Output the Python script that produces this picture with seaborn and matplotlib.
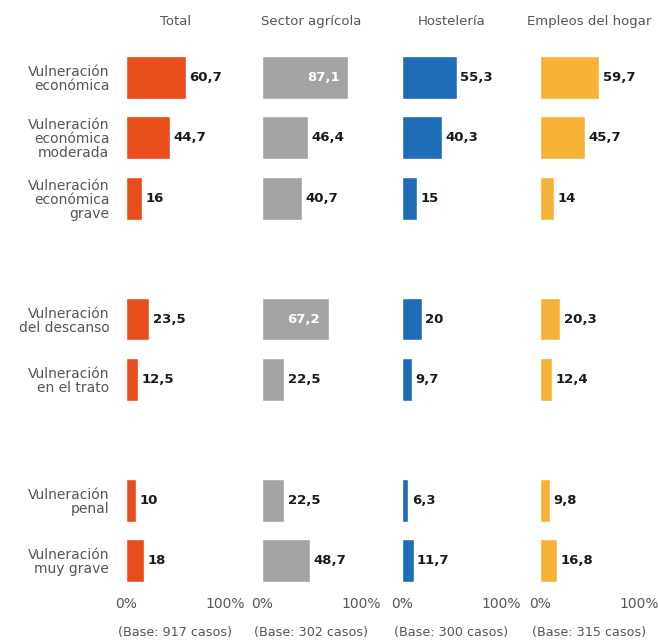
import matplotlib
matplotlib.use("Agg")
import matplotlib.pyplot as plt
import seaborn as sns
import pandas as pd

categories = [
    "Vulneración\neconómica",
    "Vulneración\neconómica\nmoderada",
    "Vulneración\neconómica\ngrave",
    " ",
    "Vulneración\ndel descanso",
    "Vulneración\nen el trato",
    "  ",
    "Vulneración\npenal",
    "Vulneración\nmuy grave",
]
gap_slots = [" ", "  "]
real_categories = [c for c in categories if c not in gap_slots]

sectors = ["Total", "Sector agrícola", "Hostelería", "Empleos del hogar"]
total_vals = [60.7, 44.7, 16, 23.5, 12.5, 10, 18]
agricola_vals = [87.1, 46.4, 40.7, 67.2, 22.5, 22.5, 48.7]
hosteleria_vals = [55.3, 40.3, 15, 20, 9.7, 6.3, 11.7]
hogar_vals = [59.7, 45.7, 14, 20.3, 12.4, 9.8, 16.8]
bases = ["(Base: 917 casos)", "(Base: 302 casos)", "(Base: 300 casos)", "(Base: 315 casos)"]
colors = ["#E84E1B", "#A3A3A3", "#1F6DB7", "#F6B236"]
tick_vals = [0, 100]
tick_labels = ["0%", "100%"]

series = [total_vals, agricola_vals, hosteleria_vals, hogar_vals]
rows = []
for s, vals in zip(sectors, series):
    for c, v in zip(real_categories, vals):
        rows.append({"sector": s, "categoria": c, "valor": v})
df = pd.DataFrame(rows)

sns.set_theme(style="white")
plt.rcParams["font.family"] = ["DejaVu Sans"]

W, H = 658, 643
fig = plt.figure(figsize=(W / 100, H / 100), dpi=100)

x0s = [126, 262, 402, 540]
pw = 99
top_px, bot_px = 47, 591
text_col = "#555555"

for i, (s, col) in enumerate(zip(sectors, colors)):
    ax = fig.add_axes([x0s[i] / W, (H - bot_px) / H, pw / W, (bot_px - top_px) / H])
    sub = df[df["sector"] == s]
    sns.barplot(data=sub, x="valor", y="categoria", order=categories, color=col,
                saturation=1, width=0.71, orient="h", ax=ax, errorbar=None)
    ax.set_xlim(0, 100)
    ax.set_ylim(len(categories) - 0.5, -0.5)
    for sp in ax.spines.values():
        sp.set_visible(False)
    ax.set_xticks(tick_vals)
    ax.set_xticklabels(tick_labels, fontsize=10, color=text_col)
    ax.tick_params(axis="both", length=0)
    ax.tick_params(axis="x", pad=4)
    ax.set_xlabel(bases[i], fontsize=9.2, color=text_col, labelpad=11)
    ax.set_ylabel("")
    if i == 0:
        ax.set_yticks(range(len(categories)))
        ax.set_yticklabels(categories, fontsize=10, color=text_col,
                           ha="right", multialignment="right", linespacing=1.0)
        ax.tick_params(axis="y", pad=12)
    else:
        ax.set_yticks([])
    ax.set_title(s, fontsize=9.5, color=text_col, pad=16)
    for cont in ax.containers:
        for bar, v in zip(cont, cont.datavalues):
            if pd.isna(v):
                continue
            lab = f"{v:g}".replace(".", ",")
            yc = bar.get_y() + bar.get_height() / 2
            if v > 65:
                ax.annotate(lab, (v, yc), xytext=(-6, 0), textcoords="offset points",
                            ha="right", va="center", fontsize=9.5, fontweight="bold",
                            color="white")
            else:
                ax.annotate(lab, (v, yc), xytext=(2.5, 0), textcoords="offset points",
                            ha="left", va="center", fontsize=9.5, fontweight="bold",
                            color="#1a1a1a")

fig.savefig("out.png", dpi=100, facecolor="white")
